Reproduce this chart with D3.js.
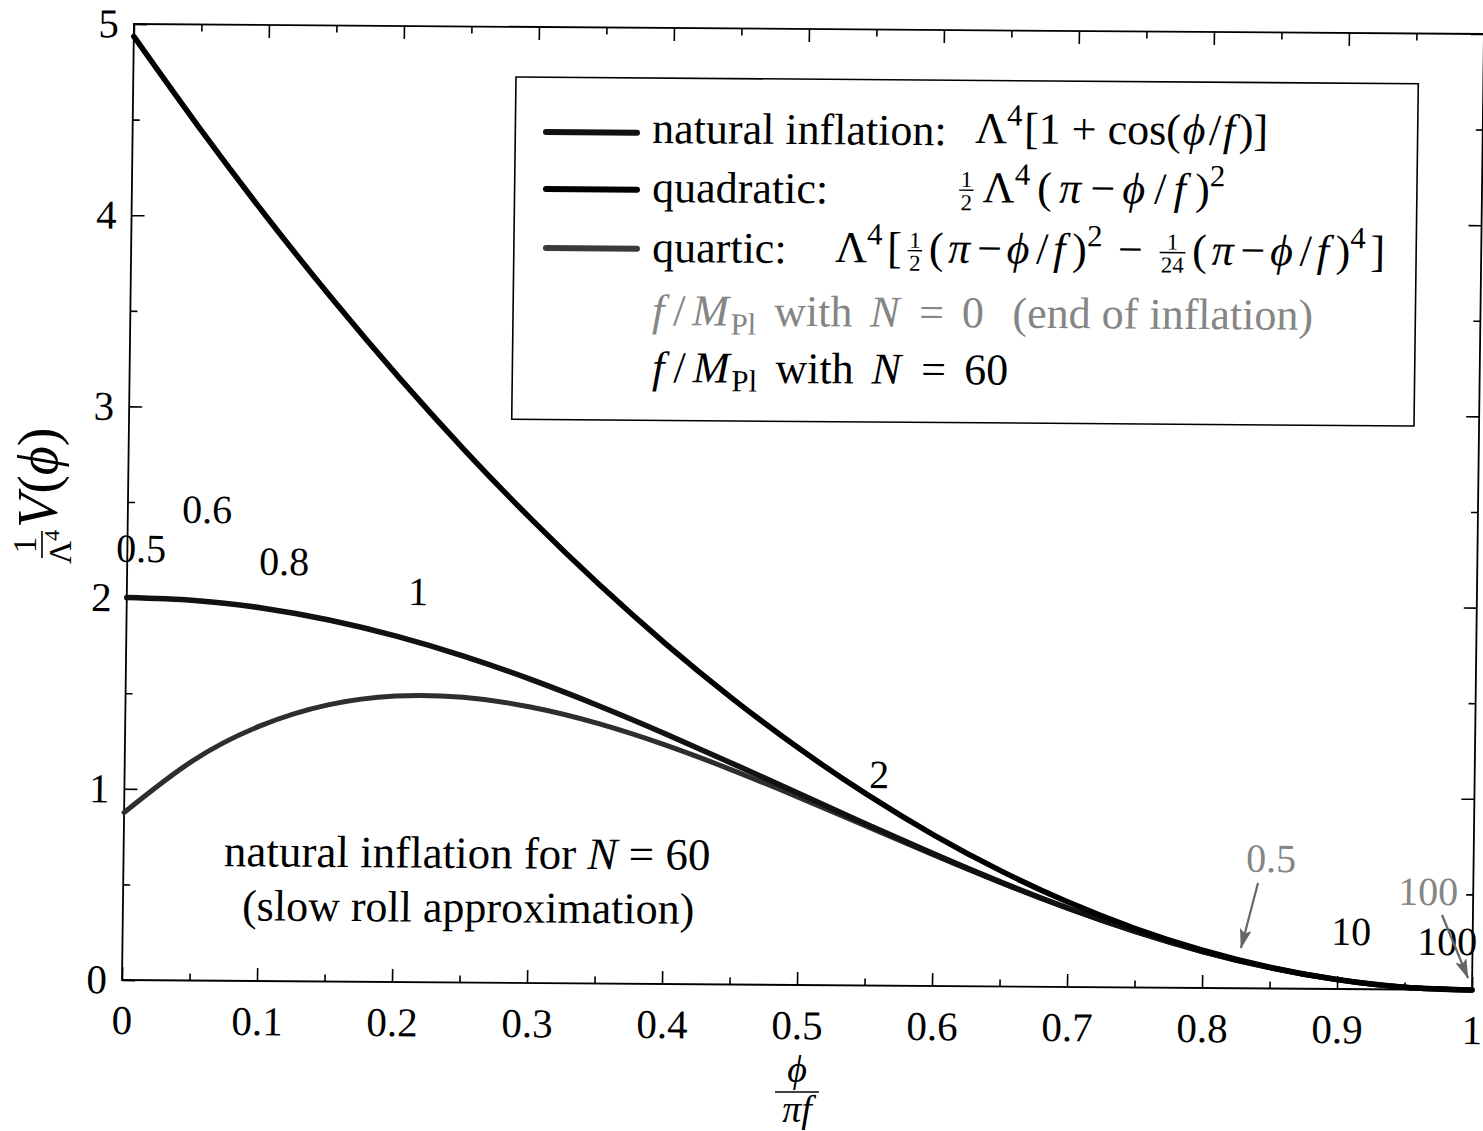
<!DOCTYPE html>
<html>
<head>
<meta charset="utf-8">
<script src="https://cdn.jsdelivr.net/npm/d3@7"></script>
<style>
  body { margin: 0; background: #fff; }
  svg { display: block; }
  text { font-family: "Liberation Serif", "Times New Roman", serif; white-space: pre; }
</style>
</head>
<body>
<svg id="chart" width="1483" height="1131"></svg>
<script>
// phi / (pi f) sampling grid
const phiOverPiF = [0, 0.05, 0.1, 0.15, 0.2, 0.25, 0.3, 0.35, 0.4, 0.45, 0.5,
                    0.55, 0.6, 0.65, 0.7, 0.75, 0.8, 0.85, 0.9, 0.95, 1];
// V(phi) / Lambda^4 for the three potentials
const naturalV   = [2.0000, 1.9877, 1.9511, 1.8910, 1.8090, 1.7071, 1.5878, 1.4540, 1.3090, 1.1564, 1.0000,
                    0.8436, 0.6910, 0.5460, 0.4122, 0.2929, 0.1910, 0.1090, 0.0489, 0.0123, 0];
const quadraticV = [4.9348, 4.4537, 3.9972, 3.5654, 3.1583, 2.7758, 2.4181, 2.0850, 1.7765, 1.4928, 1.2337,
                    0.9993, 0.7896, 0.6045, 0.4441, 0.3084, 0.1974, 0.1110, 0.0493, 0.0123, 0];
const quarticV   = [0.8761, 1.1478, 1.3343, 1.4467, 1.4958, 1.4916, 1.4436, 1.3605, 1.2505, 1.1214, 0.9800,
                    0.8329, 0.6857, 0.5436, 0.4113, 0.2926, 0.1909, 0.1090, 0.0489, 0.0123, 0];

const xTickValues = [0, 0.1, 0.2, 0.3, 0.4, 0.5, 0.6, 0.7, 0.8, 0.9, 1];
const xTickLabels = ["0", "0.1", "0.2", "0.3", "0.4", "0.5", "0.6", "0.7", "0.8", "0.9", "1"];
const xMinorValues = [0.05, 0.15, 0.25, 0.35, 0.45, 0.55, 0.65, 0.75, 0.85, 0.95];
const yTickValues = [0, 1, 2, 3, 4, 5];
const yTickLabels = ["0", "1", "2", "3", "4", "5"];
const yMinorValues = [0.5, 1.5, 2.5, 3.5, 4.5];

// f/M_Pl values marked along the curves
const labelsN60 = ["0.5", "0.6", "0.8", "1", "2", "10", "100"];
const labelsN0  = ["0.5", "100"];

const BLACK = "#000";
const GREY = "#858585";

const svg = d3.select("#chart");
svg.append("rect").attr("width", 1483).attr("height", 1131).attr("fill", "#fff");

const W = 1350, H = 956;
// the plotting frame sits slightly sheared on the page
const M = { a: 1, b: 0.0074, c: -0.0125, d: 1, e: 133.95, f: 24 };
const plot = svg.append("g")
  .attr("transform", `matrix(${M.a},${M.b},${M.c},${M.d},${M.e},${M.f})`);
function toInner(sx, sy) {
  const dx = sx - M.e, dy = sy - M.f, det = M.a * M.d - M.b * M.c;
  return [(M.d * dx - M.c * dy) / det, (-M.b * dx + M.a * dy) / det];
}

const x = d3.scaleLinear().domain([0, 1]).range([0, W]);
const y = d3.scaleLinear().domain([0, 5]).range([H, 0]);

// ---- axes (ticks point inward on all four sides)
function styleAxis(g, size) {
  g.select(".domain").remove();
  g.selectAll(".tick line").attr("stroke", BLACK).attr("stroke-width", 1.6);
  g.selectAll(".tick text").attr("fill", BLACK).attr("font-size", size || 41)
    .attr("font-family", '"Liberation Serif","Times New Roman",serif');
}
plot.append("g").attr("transform", `translate(0,${H})`)
  .call(d3.axisBottom(x).tickValues(xTickValues).tickFormat((d, i) => xTickLabels[i]).tickSize(-13).tickPadding(25))
  .call(g => styleAxis(g));
plot.append("g").attr("transform", `translate(0,${H})`)
  .call(d3.axisBottom(x).tickValues(xMinorValues).tickFormat("").tickSize(-7))
  .call(g => styleAxis(g));
plot.append("g")
  .call(d3.axisTop(x).tickValues(xTickValues).tickFormat("").tickSize(-13))
  .call(g => styleAxis(g));
plot.append("g")
  .call(d3.axisTop(x).tickValues(xMinorValues).tickFormat("").tickSize(-7))
  .call(g => styleAxis(g));
plot.append("g")
  .call(d3.axisLeft(y).tickValues(yTickValues).tickFormat((d, i) => yTickLabels[i]).tickSize(-13).tickPadding(15))
  .call(g => styleAxis(g));
plot.append("g")
  .call(d3.axisLeft(y).tickValues(yMinorValues).tickFormat("").tickSize(-7))
  .call(g => styleAxis(g));
plot.append("g").attr("transform", `translate(${W},0)`)
  .call(d3.axisRight(y).tickValues(yTickValues).tickFormat("").tickSize(-13))
  .call(g => styleAxis(g));
plot.append("g").attr("transform", `translate(${W},0)`)
  .call(d3.axisRight(y).tickValues(yMinorValues).tickFormat("").tickSize(-7))
  .call(g => styleAxis(g));

plot.append("rect").attr("x", 0).attr("y", 0).attr("width", W).attr("height", H)
  .attr("fill", "none").attr("stroke", BLACK).attr("stroke-width", 1.8);

// ---- curves
const line = d3.line().x((d, i) => x(phiOverPiF[i])).y(d => y(d)).curve(d3.curveNatural);
const series = [
  { name: "quartic",   values: quarticV,   color: "#2e2e2e", width: 5 },
  { name: "natural",   values: naturalV,   color: "#111",    width: 5.5 },
  { name: "quadratic", values: quadraticV, color: "#000",    width: 5.5 }
];
plot.selectAll("path.curve").data(series).join("path")
  .attr("class", "curve")
  .attr("d", d => line(d.values))
  .attr("fill", "none")
  .attr("stroke", d => d.color)
  .attr("stroke-width", d => d.width)
  .attr("stroke-linecap", "round")
  .attr("stroke-linejoin", "round");

// ---- small math typesetter: runs of text pieces laid out left to right,
// optionally spread so that the run ends at a given page x
const T = s => ({ t: s });
const I = s => ({ t: s, it: true });
const SUP = s => ({ t: s, sup: true });
const SUB = s => ({ t: s, sub: true });
const F = (n, d) => ({ frac: [n, d] });
const G = px => ({ gap: px });

function mathRun(parent, sx, sy, pieces, base, color, endSx) {
  let [px, y0] = toInner(sx, sy);
  const run = parent.append("g");
  const boxes = [];
  for (const p of pieces) {
    if (p.gap) { px += p.gap; continue; }
    const box = run.append("g");
    // scripts stay attached to their base; other pieces share any extra room
    boxes.push({ box, weight: (p.sup || p.sub || boxes.length === 0) ? 0 : 1 });
    if (p.frac) {
      const fs = base * 0.52;
      const barY = y0 - base * 0.27;
      const num = box.append("text").attr("y", barY - 3).attr("font-size", fs).attr("fill", color)
        .attr("text-anchor", "middle").text(p.frac[0]);
      const den = box.append("text").attr("y", barY + fs * 0.7 + 4).attr("font-size", fs).attr("fill", color)
        .attr("text-anchor", "middle").text(p.frac[1]);
      const w = Math.max(num.node().getComputedTextLength(), den.node().getComputedTextLength()) + 3;
      num.attr("x", px + w / 2 + 1);
      den.attr("x", px + w / 2 + 1);
      box.append("line").attr("x1", px + 1).attr("x2", px + w + 1).attr("y1", barY).attr("y2", barY)
        .attr("stroke", color).attr("stroke-width", 1.4);
      px += w + 3;
      continue;
    }
    const size = (p.sup || p.sub) ? base * 0.7 : base;
    const dy = p.sup ? -base * 0.4 : p.sub ? base * 0.2 : 0;
    const t = box.append("text").attr("x", px).attr("y", y0 + dy)
      .attr("font-size", size).attr("font-style", p.it ? "italic" : "normal")
      .attr("fill", color).text(p.t);
    px += t.node().getComputedTextLength() + (p.it ? 2 : 0);
  }
  const totalWeight = d3.sum(boxes, b => b.weight);
  if (endSx !== undefined && totalWeight > 0) {
    const [ex] = toInner(endSx, sy);
    const extra = (ex - px) / totalWeight;
    let shift = 0;
    boxes.forEach(b => { shift += b.weight * extra; b.box.attr("transform", `translate(${shift},0)`); });
  }
  return run;
}

// ---- legend
const legend = plot.append("g");
{
  const [bx0, by0] = toInner(516, 77);
  const [bx1, by1] = toInner(1414, 426);
  legend.append("rect").attr("x", bx0).attr("y", by0).attr("width", bx1 - bx0).attr("height", by1 - by0)
    .attr("fill", "#fff").attr("stroke", BLACK).attr("stroke-width", 1.6);

  const sampleRows = [132, 189, 248];
  const sampleColors = [series[1].color, series[2].color, "#3a3a3a"];
  sampleRows.forEach((sy, k) => {
    const [lx0, ly] = toInner(546, sy);
    const [lx1] = toInner(637, sy);
    legend.append("line").attr("x1", lx0).attr("x2", lx1).attr("y1", ly).attr("y2", ly)
      .attr("stroke", sampleColors[k]).attr("stroke-width", 6).attr("stroke-linecap", "round");
  });

  const B = 44;
  mathRun(legend, 652, 143, [T("natural inflation:")], B, BLACK);
  mathRun(legend, 975, 143, [T("Λ"), SUP("4"), T("[1 + cos("), I("ϕ"), T("/"), I("f"), T(")]")], B, BLACK, 1268);

  mathRun(legend, 652, 202, [T("quadratic:")], B, BLACK);
  mathRun(legend, 958, 202, [F("1", "2"), T("Λ"), SUP("4"), T("("), I("π"), T("−"), I("ϕ"), T("/"), I("f"), T(")"), SUP("2")], B, BLACK, 1225);

  mathRun(legend, 652, 262, [T("quartic:")], B, BLACK);
  mathRun(legend, 835, 262, [T("Λ"), SUP("4"), T("["), F("1", "2"), T("("), I("π"), T("−"), I("ϕ"), T("/"), I("f"), T(")"), SUP("2"),
    T(" − "), F("1", "24"), T("("), I("π"), T("−"), I("ϕ"), T("/"), I("f"), T(")"), SUP("4"), T("]")], B, BLACK, 1385);

  mathRun(legend, 652, 325, [I("f"), T("/"), I("M"), SUB("Pl"), T(" with "), I("N"), T(" = "), T("0"), G(22), T("(end of inflation)")], B, GREY, 1313);
  mathRun(legend, 652, 382, [I("f"), T("/"), I("M"), SUB("Pl"), T(" with "), I("N"), T(" = "), T("60")], B, BLACK, 1008);
}

// ---- f/M_Pl markers along the curves
const n60Spots = [[141, 562], [207, 523], [284, 575], [418, 605], [879, 788], [1351, 945], [1447, 955]];
labelsN60.forEach((s, i) => {
  const [px, py] = toInner(n60Spots[i][0], n60Spots[i][1]);
  plot.append("text").attr("x", px).attr("y", py).attr("text-anchor", "middle")
    .attr("font-size", 40).attr("fill", BLACK).text(s);
});
const n0Spots = [[1271, 872], [1428, 905]];
labelsN0.forEach((s, i) => {
  const [px, py] = toInner(n0Spots[i][0], n0Spots[i][1]);
  plot.append("text").attr("x", px).attr("y", py).attr("text-anchor", "middle")
    .attr("font-size", 40).attr("fill", GREY).text(s);
});

// arrows from the N = 0 labels onto the curve
svg.append("defs").append("marker").attr("id", "head")
  .attr("viewBox", "0 0 20 12").attr("refX", 19).attr("refY", 6)
  .attr("markerUnits", "userSpaceOnUse")
  .attr("markerWidth", 20).attr("markerHeight", 12).attr("orient", "auto")
  .append("path").attr("d", "M0,0 L20,6 L0,12 L4,6 Z").attr("fill", "#666");
[[[1258, 883], [1241, 948]], [[1442, 915], [1468, 978]]].forEach(([p0, p1]) => {
  const a = toInner(p0[0], p0[1]), b = toInner(p1[0], p1[1]);
  plot.append("line").attr("x1", a[0]).attr("y1", a[1]).attr("x2", b[0]).attr("y2", b[1])
    .attr("stroke", "#666").attr("stroke-width", 2.2).attr("marker-end", "url(#head)");
});

// ---- caption inside the plot
{
  const [cx, cy] = toInner(467, 868);
  const t1 = plot.append("text").attr("x", cx).attr("y", cy).attr("text-anchor", "middle")
    .attr("font-size", 45).attr("fill", BLACK);
  t1.append("tspan").text("natural inflation for ");
  t1.append("tspan").attr("font-style", "italic").text("N");
  t1.append("tspan").text(" = 60");
  const [cx2, cy2] = toInner(468, 922);
  plot.append("text").attr("x", cx2).attr("y", cy2).attr("text-anchor", "middle")
    .attr("font-size", 44).attr("fill", BLACK).text("(slow roll approximation)");
}

// ---- axis titles
{
  const gx = svg.append("g");
  gx.append("text").attr("x", 797).attr("y", 1082).attr("text-anchor", "middle")
    .attr("font-size", 38).attr("font-style", "italic").text("ϕ");
  gx.append("line").attr("x1", 775).attr("x2", 819).attr("y1", 1092).attr("y2", 1092)
    .attr("stroke", BLACK).attr("stroke-width", 1.6);
  gx.append("text").attr("x", 797).attr("y", 1122).attr("text-anchor", "middle")
    .attr("font-size", 38).attr("font-style", "italic").text("πf");

  const gy = svg.append("g").attr("transform", "translate(57,558) rotate(-90)");
  gy.append("text").attr("x", 13).attr("y", -21).attr("text-anchor", "middle").attr("font-size", 33).text("1");
  gy.append("line").attr("x1", 0).attr("x2", 27).attr("y1", -15).attr("y2", -15)
    .attr("stroke", BLACK).attr("stroke-width", 1.6);
  const den = gy.append("text").attr("x", 11).attr("y", 14).attr("text-anchor", "middle").attr("font-size", 32);
  den.append("tspan").text("Λ");
  den.append("tspan").attr("font-size", 22).attr("dy", -12).text("4");
  const v = gy.append("text").attr("x", 30).attr("y", 0).attr("font-size", 56);
  v.append("tspan").attr("font-style", "italic").text("V");
  v.append("tspan").text("(");
  v.append("tspan").attr("font-style", "italic").text("ϕ");
  v.append("tspan").text(")");
}
</script>
</body>
</html>
